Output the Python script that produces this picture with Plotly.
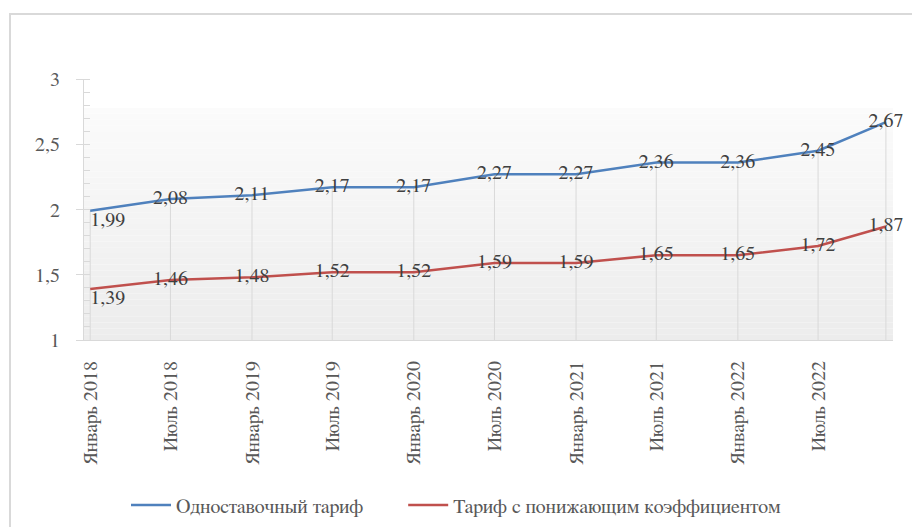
import plotly.graph_objects as go

# Tariff dynamics, rub per kWh
dates = ["2018-01-01", "2018-07-01", "2019-01-01", "2019-07-01", "2020-01-01",
         "2020-07-01", "2021-01-01", "2021-07-01", "2022-01-01", "2022-07-01",
         "2022-12-01"]
single_rate = [1.99, 2.08, 2.11, 2.17, 2.17, 2.27, 2.27, 2.36, 2.36, 2.45, 2.67]
reduced_rate = [1.39, 1.46, 1.48, 1.52, 1.52, 1.59, 1.59, 1.65, 1.65, 1.72, 1.87]

tick_dates = dates[:10]
tick_labels = ["Январь 2018", "Июль 2018", "Январь 2019", "Июль 2019",
               "Январь 2020", "Июль 2020", "Январь 2021", "Июль 2021",
               "Январь 2022", "Июль 2022"]

y_ticks = [1, 1.5, 2, 2.5, 3]
y_tick_labels = ["1", "1,5", "2", "2,5", "3"]

series_names = ["Одноставочный тариф", "Тариф с понижающим коэффициентом"]

FONT = "FreeSerif"
W, H = 912, 527
ML, MR, MT, MB = 84, 19, 79, 187
PW, PH = W - ML - MR, H - MT - MB


def px_x(p):
    return (p - ML) / PW


def px_y(p):
    return (H - MB - p) / PH


def fmt(v):
    return f"{v:.2f}".replace(".", ",")


fig = go.Figure()

# drop lines from the upper series down to the axis
dx, dy = [], []
for d, v in zip(dates, single_rate):
    dx += [d, d, None]
    dy += [1, v, None]
fig.add_trace(go.Scatter(x=dx, y=dy, mode="lines", line=dict(color="#d9d9d9", width=1),
                         hoverinfo="skip", showlegend=False))

positions = ["bottom right"] + ["middle center"] * (len(dates) - 1)
legend_labels = [series_names[0] + "\u00a0" * 7, series_names[1]]
for name, vals, color in [(legend_labels[0], single_rate, "#4F81BD"),
                          (legend_labels[1], reduced_rate, "#C0504D")]:
    fig.add_trace(go.Scatter(
        x=dates, y=vals, name=name, mode="lines+text", cliponaxis=False,
        line=dict(color=color, width=2.5),
        text=[fmt(v) for v in vals], textposition=positions,
        textfont=dict(family=FONT, size=20, color="#404040"),
    ))

# plot-area vertical gradient
shapes = []
top = px_y(108)
n = 40
c0, c1 = 0xfb, 0xec
for i in range(n):
    y0 = top * i / n
    y1 = top * (i + 1) / n
    c = round(c1 + (c0 - c1) * (i + 0.5) / n)
    col = f"rgb({c},{c},{c})"
    shapes.append(dict(type="rect", xref="paper", yref="paper", x0=0, x1=1, y0=y0, y1=y1,
                       fillcolor=col, line=dict(width=0), layer="below"))

# chart frame
shapes.append(dict(type="rect", xref="paper", yref="paper",
                   x0=px_x(10), x1=px_x(930), y0=px_y(540), y1=px_y(14),
                   line=dict(color="#d9d9d9", width=2), fillcolor="rgba(0,0,0,0)", layer="below"))

fig.update_layout(
    width=W, height=H,
    margin=dict(l=ML, r=MR, t=MT, b=MB, autoexpand=False),
    paper_bgcolor="white", plot_bgcolor="rgba(0,0,0,0)",
    shapes=shapes,
    showlegend=True,
    legend=dict(orientation="h", x=px_x(126), xanchor="left", y=px_y(505), yanchor="middle",
                font=dict(family=FONT, size=20, color="#595959"),
                itemwidth=40, tracegroupgap=0),
    xaxis=dict(type="date", range=["2017-12-18", "2022-12-17"], automargin=False,
               tickvals=tick_dates, ticktext=tick_labels, tickangle=-90,
               showgrid=False, zeroline=False, showline=True, linecolor="#d9d9d9",
               ticks="", ticklabelstandoff=12,
               tickfont=dict(family=FONT, size=20, color="#595959")),
    yaxis=dict(range=[1, 3], tickvals=y_ticks, ticktext=y_tick_labels,
               showgrid=False, zeroline=False, automargin=False,
               showline=True, linecolor="#d9d9d9", ticks="outside", ticklen=7,
               tickcolor="#d9d9d9", ticklabelstandoff=12,
               minor=dict(dtick=0.1, tick0=1, ticks="inside", ticklen=6,
                          tickcolor="#d9d9d9", showgrid=False),
               tickfont=dict(family=FONT, size=20, color="#595959")),
)

fig.write_html("out.html")
